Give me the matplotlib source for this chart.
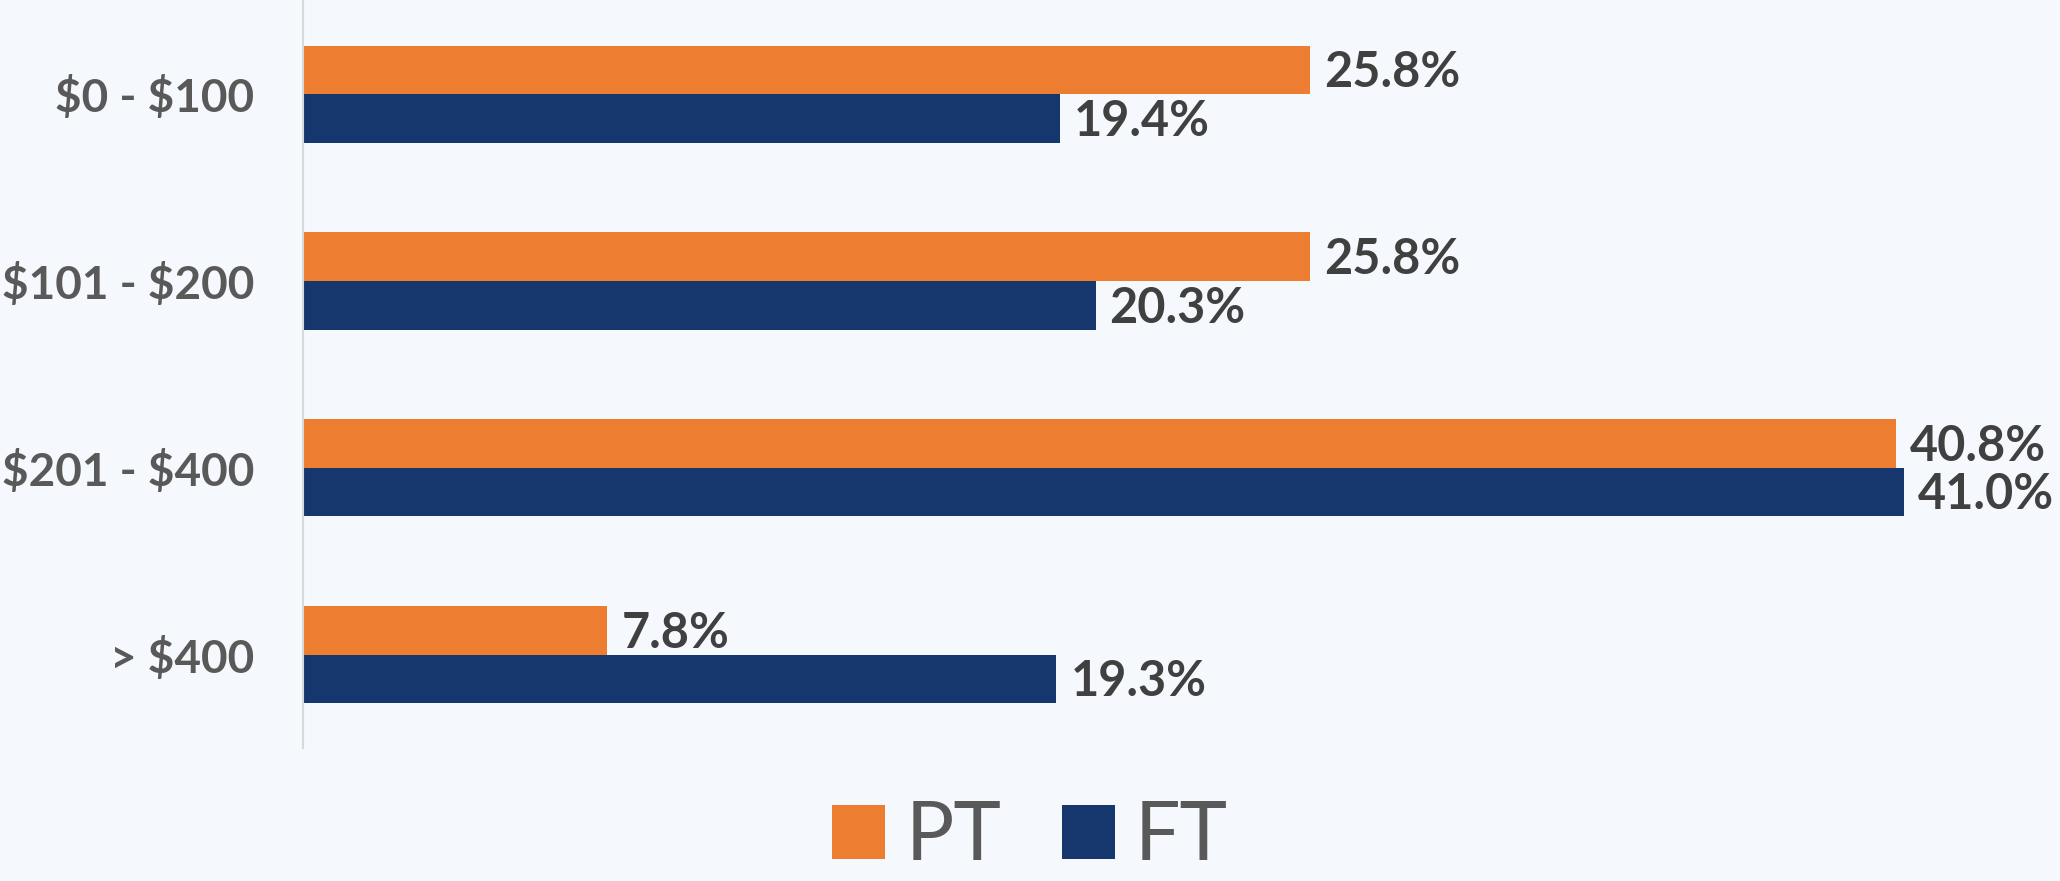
import matplotlib.pyplot as plt
import numpy as np

plt.rcParams['text.parse_math'] = False

# spending ranges and share of respondents (%)
categories = ['$0 - $100', '$101 - $200', '$201 - $400', '> $400']
pt_values = [25.8, 25.8, 40.8, 7.8]
ft_values = [19.4, 20.3, 41.0, 19.3]
series_names = ['PT', 'FT']

ORANGE = '#ED7D31'
NAVY = '#16376E'
TEXT_GRAY = '#595959'
VALUE_GRAY = '#404040'
BG = '#f5f8fc'


def plot_chart():
    fig = plt.figure(figsize=(20.6, 8.81), dpi=100, facecolor=BG)
    ax = fig.add_axes([0.147, 0.151, 0.853, 0.848])
    ax.set_facecolor('none')

    y = np.arange(len(categories))
    h = 0.26

    bars_pt = ax.barh(y - h / 2, pt_values, h, color=ORANGE, label=series_names[0])
    bars_ft = ax.barh(y + h / 2, ft_values, h, color=NAVY, label=series_names[1])

    ax.set_ylim(len(categories) - 0.5, -0.5)
    ax.set_xlim(0, 45)

    # value labels to the right of each bar
    for bars, vals in ((bars_pt, pt_values), (bars_ft, ft_values)):
        for rect, v in zip(bars, vals):
            ax.annotate(f'{v:.1f}%',
                        xy=(rect.get_width(), rect.get_y() + rect.get_height() / 2),
                        xytext=(10, -2), textcoords='offset points',
                        ha='left', va='center', fontsize=35, fontweight='bold',
                        family='Lato', color=VALUE_GRAY)

    ax.set_yticks(y)
    ax.set_yticklabels(categories, fontsize=33, fontweight='bold', family='Lato', color=TEXT_GRAY)
    ax.tick_params(axis='y', length=0, pad=35)
    ax.set_xticks([])

    for side in ('top', 'right', 'bottom'):
        ax.spines[side].set_visible(False)
    ax.spines['left'].set_color('#d9d9d9')
    ax.spines['left'].set_linewidth(1.5)

    fig.legend(handles=[bars_pt, bars_ft], labels=series_names,
               loc='center', bbox_to_anchor=(0.5, 0.05), ncol=2, frameon=False,
               prop={'family': 'Lato', 'weight': 'normal', 'size': 58},
               labelcolor=TEXT_GRAY, handlelength=0.66, handleheight=0.66,
               handletextpad=0.25, columnspacing=0.75)

    fig.savefig('out.png', dpi=100, facecolor=BG)


if __name__ == '__main__':
    plot_chart()
